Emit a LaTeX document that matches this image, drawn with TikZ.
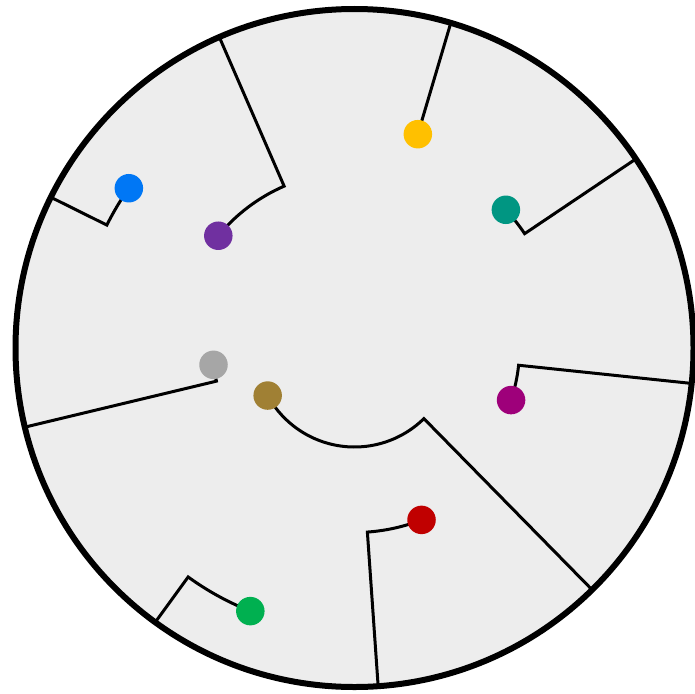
\documentclass[tikz,border=0pt]{standalone}
\definecolor{rimfill}{RGB}{237,237,237}
\definecolor{cblue}{RGB}{0,119,245}
\definecolor{cpurple}{RGB}{112,48,160}
\definecolor{cyellow}{RGB}{255,192,0}
\definecolor{cteal}{RGB}{0,150,130}
\definecolor{cmagenta}{RGB}{158,0,122}
\definecolor{cred}{RGB}{192,0,0}
\definecolor{cbrown}{RGB}{160,128,52}
\definecolor{cgrey}{RGB}{166,166,166}
\definecolor{cgreen}{RGB}{0,176,80}
\begin{document}
\begin{tikzpicture}[x=1pt,y=1pt,
  dot/.style={circle,inner sep=0pt,minimum size=28.5pt,draw=none},
  branch/.style={line width=3pt,line join=miter},
  rim/.style={line width=6pt}]
\useasboundingbox (0,0) rectangle (695,-693);
\coordinate (O) at (354.5,-348);
\fill[rimfill] (O) circle[radius=339pt];
\begin{scope}[shift={(O)}]
  \foreach \n/\a/\r/\d in {y/73.5/223/73.5, t/33.9/205/42.4, m/-6/165/-18.4,
      r/-86/184.5/-68.7, n/-45.5/99/-151.3, g/193.5/142/186.8,
      e/234/283/248.4, b/153.6/276.5/144.7, p/113.5/176.5/140.5}{
    \coordinate (b\n) at (\a:339);
    \coordinate (c\n) at (\a:\r);
    \draw[branch] (b\n) -- (c\n) arc[start angle=\a, end angle=\d, radius=\r pt];
  }
  \foreach \n/\r/\d/\col in {y/223/73.5/cyellow, t/205/42.4/cteal, m/165/-18.4/cmagenta,
      r/184.5/-68.7/cred, n/99/-151.3/cbrown, g/142/186.8/cgrey,
      e/283/248.4/cgreen, b/276.5/144.7/cblue, p/176.5/140.5/cpurple}{
    \node[dot,fill=\col] (d\n) at (\d:\r) {};
  }
\end{scope}
\draw[rim] (O) circle[radius=339pt];
\end{tikzpicture}
\end{document}
